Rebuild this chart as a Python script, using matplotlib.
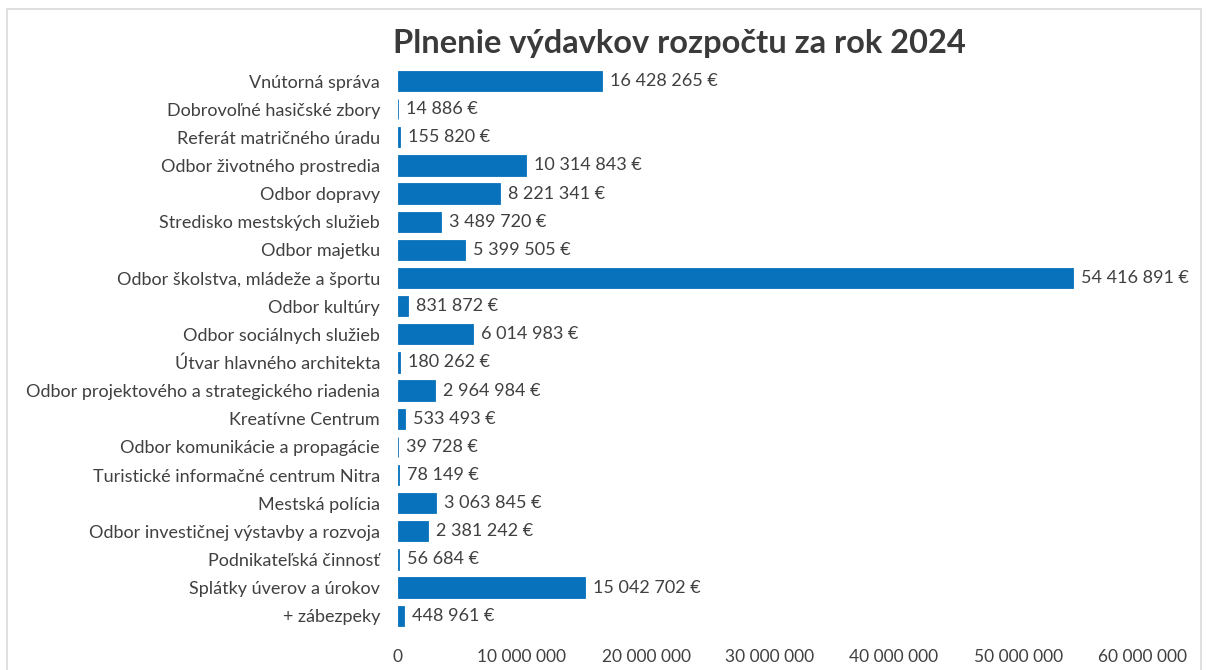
import matplotlib.pyplot as plt
from matplotlib.patches import Rectangle
from matplotlib.ticker import FuncFormatter

# data (top to bottom)
categories = [
    "Vnútorná správa",
    "Dobrovoľné hasičské zbory",
    "Referát matričného úradu",
    "Odbor životného prostredia",
    "Odbor dopravy",
    "Stredisko mestských služieb",
    "Odbor majetku",
    "Odbor školstva, mládeže a športu",
    "Odbor kultúry",
    "Odbor sociálnych služieb",
    "Útvar hlavného architekta",
    "Odbor projektového a strategického riadenia",
    "Kreatívne Centrum",
    "Odbor komunikácie a propagácie",
    "Turistické informačné centrum Nitra",
    "Mestská polícia",
    "Odbor investičnej výstavby a rozvoja",
    "Podnikateľská činnosť",
    "Splátky úverov a úrokov",
    "+ zábezpeky",
]
values = [
    16428265, 14886, 155820, 10314843, 8221341, 3489720, 5399505,
    54416891, 831872, 6014983, 180262, 2964984, 533493, 39728,
    78149, 3063845, 2381242, 56684, 15042702, 448961,
]
x_ticks = [0, 10000000, 20000000, 30000000, 40000000, 50000000, 60000000]

plt.rcParams['font.family'] = ['Lato', 'DejaVu Sans']

def fmt(v):
    return f"{v:,.0f}".replace(",", " ")

fig = plt.figure(figsize=(12.06, 6.70), dpi=100)
ax = fig.add_axes([0.330, 0.06, 0.617, 0.84])

pos = list(range(len(categories)))
ax.barh(pos, values, height=0.72, color='#0872bc', edgecolor='#0872bc', linewidth=0.6)
ax.set_yticks(pos)
ax.set_yticklabels(categories, fontsize=13, color='#404040')
ax.set_ylim(len(categories) - 0.5, -0.5)

for p, v in zip(pos, values):
    ax.annotate(fmt(v) + " €", xy=(v, p), xytext=(8, 0), textcoords='offset pixels',
                va='center', ha='left', fontsize=13, color='#404040')

ax.set_xlim(0, 60000000)
ax.set_xticks(x_ticks)
ax.xaxis.set_major_formatter(FuncFormatter(lambda v, _: fmt(v)))
ax.tick_params(axis='x', labelsize=12.5, labelcolor='#404040', length=0, pad=14)
ax.tick_params(axis='y', length=0, pad=13)
for s in ax.spines.values():
    s.set_visible(False)

fig.text(0.563, 0.935, "Plnenie výdavkov rozpočtu za rok 2024", ha='center',
         va='center', fontsize=23.5, fontweight='bold', color='#3a3a3a')

fig.patches.append(Rectangle((0.006, -0.01), 0.99, 0.997, transform=fig.transFigure,
                             fill=False, edgecolor='#d9d9d9', linewidth=1.2))

fig.savefig("out.png", dpi=100)
